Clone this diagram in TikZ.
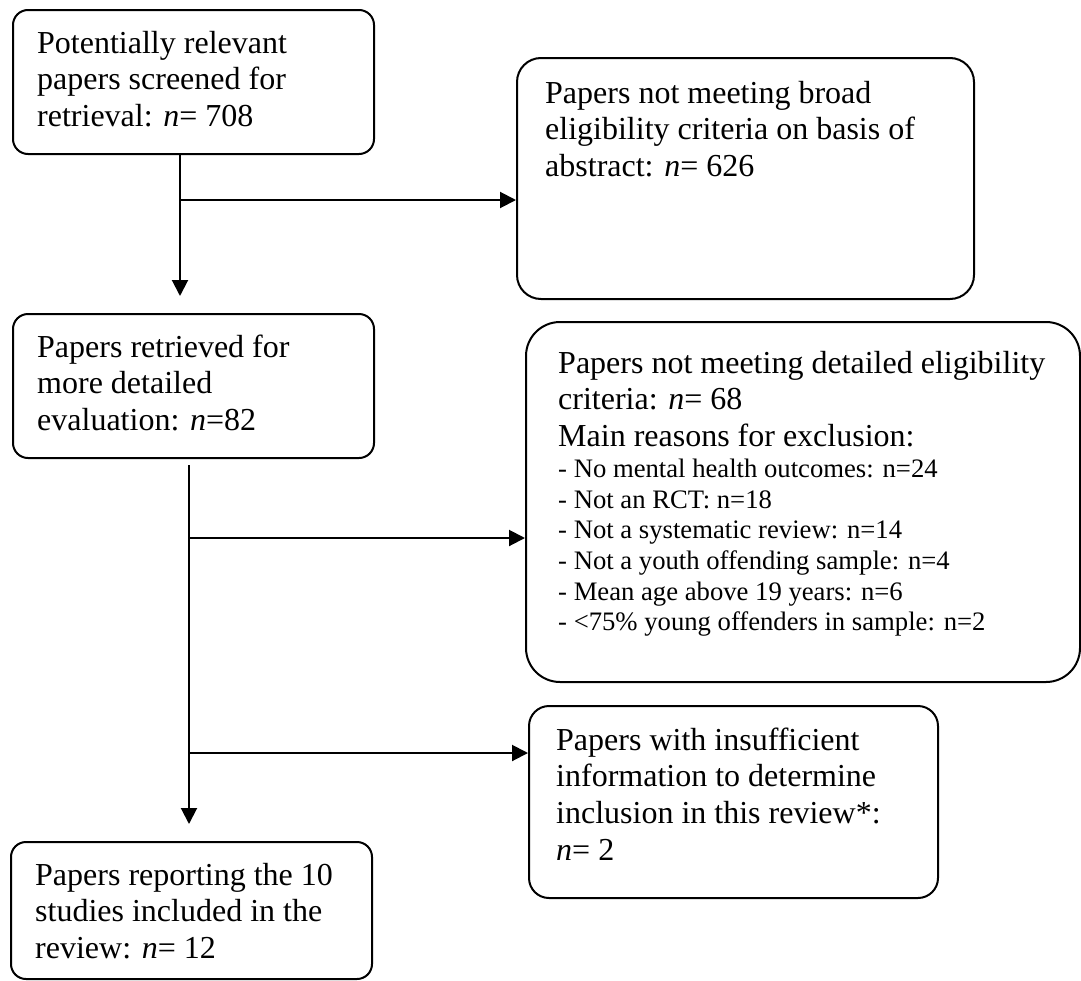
\documentclass[tikz,border=0pt]{standalone}
\usepackage{fontspec}
\setmainfont{Liberation Serif}
\usetikzlibrary{arrows.meta}
\newcommand{\bigtxt}{\fontsize{32}{36.8}\selectfont}
\newcommand{\smalltxt}{\fontsize{26.67}{30.7}\selectfont}
\tikzset{
  flowbox/.style={draw=black, line width=2pt, fill=white, inner sep=0pt, anchor=north west},
  boxtext/.style={inner sep=0pt, anchor=base west, align=left},
  arr/.style={line width=2pt, -{Triangle[length=16pt,width=16pt]}},
}
\begin{document}
\begin{tikzpicture}[x=1pt,y=-1pt]
\useasboundingbox (0,0) rectangle (1081,980);
% boxes
\node[flowbox, rounded corners=15pt, minimum width=361pt, minimum height=144pt] (b1) at (12,9) {};
\node[flowbox, rounded corners=24pt, minimum width=457pt, minimum height=241pt] (b2) at (516,57) {};
\node[flowbox, rounded corners=15pt, minimum width=361pt, minimum height=144pt] (b3) at (12,313) {};
\node[flowbox, rounded corners=34pt, minimum width=554pt, minimum height=360pt] (b4) at (525,321) {};
\node[flowbox, rounded corners=20pt, minimum width=409pt, minimum height=192pt] (b5) at (528,705) {};
\node[flowbox, rounded corners=15pt, minimum width=361pt, minimum height=137pt] (b6) at (10,841) {};
% texts
\node[boxtext] (t1) at (37,53) {\parbox[t]{330pt}{\bigtxt\raggedright Potentially relevant\\papers screened for\\retrieval: \textit{n}= 708}};
\node[boxtext] (t2) at (545,103) {\parbox[t]{420pt}{\bigtxt\raggedright Papers not meeting broad\\eligibility criteria on basis of\\abstract: \textit{n}= 626}};
\node[boxtext] (t3) at (37,357) {\parbox[t]{330pt}{\bigtxt\raggedright Papers retrieved for\\more detailed\\evaluation: \textit{n}=82}};
\node[boxtext] (t4) at (558,373) {\parbox[t]{515pt}{\bigtxt\raggedright Papers not meeting detailed eligibility\\criteria: \textit{n}= 68\\Main reasons for exclusion:\par
\smalltxt - No mental health outcomes: n=24\\- Not an RCT: n=18\\- Not a systematic review: n=14\\- Not a youth offending sample: n=4\\- Mean age above 19 years: n=6\\- <75\% young offenders in sample: n=2\par}};
\node[boxtext] (t5) at (556,750) {\parbox[t]{370pt}{\bigtxt\raggedright Papers with insufficient\\information to determine\\inclusion in this review*:\\\textit{n}= 2}};
\node[boxtext] (t6) at (35,885) {\parbox[t]{330pt}{\bigtxt\raggedright Papers reporting the 10\\studies included in the\\review: \textit{n}= 12}};
% connector points
\coordinate (e1) at (180,296);
\coordinate (j1) at (180,200);
\coordinate (s2) at (189,465);
\coordinate (e2) at (189,824);
\coordinate (j2) at (189,538);
\coordinate (j3) at (189,753);
% connectors
\draw[arr] (b1.south -| e1) -- (e1);
\draw[arr] (j1) -- (j1 -| b2.west);
\draw[arr] (s2) -- (e2);
\draw[arr] (j2) -- (j2 -| b4.west);
\draw[arr] (j3) -- (j3 -| b5.west);
\end{tikzpicture}
\end{document}
